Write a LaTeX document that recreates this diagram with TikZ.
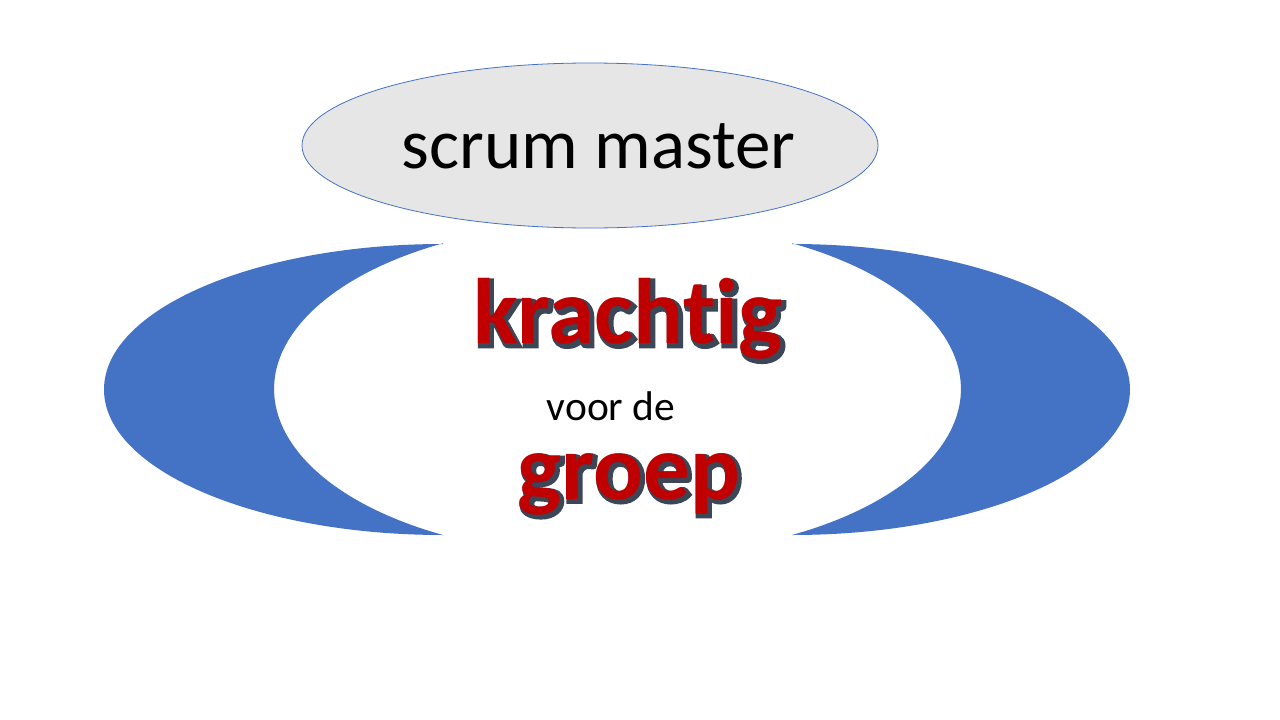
\documentclass[tikz,border=0pt]{standalone}
\usepackage{fontspec}
\setmainfont{Carlito}[Ligatures=NoCommon]
\newfontfamily\outlinefont{Carlito Bold}[Ligatures=NoCommon, RawFeature={embolden=5}]
\newfontfamily\redfont{Carlito Bold}[Ligatures=NoCommon]
\definecolor{moonblue}{HTML}{4472C4}
\definecolor{lightgray}{HTML}{E7E6E6}
\definecolor{textred}{HTML}{C00000}
\definecolor{darkslate}{HTML}{3B4656}
\tikzset{
  moon/.style={fill=moonblue, draw=none},
  bigred/.style={anchor=base, inner sep=0pt, text=textred, font=\fontsize{93}{93}\redfont},
  bigshadow/.style={anchor=base, inner sep=0pt, text=darkslate, font=\fontsize{93}{93}\outlinefont},
  plain/.style={anchor=base, inner sep=0pt}
}
\begin{document}
\begin{tikzpicture}[x=1pt,y=-1pt]
\useasboundingbox[fill=white] (0,0) rectangle (1280,720);
% top ellipse
\draw[fill=lightgray, draw=moonblue, line width=0.8pt] (590,145.5) ellipse[x radius=288, y radius=82.5];
\node[plain, font=\fontsize{71}{71}\selectfont] (sm) at (598.5,168) {scrum master};
% left moon
\fill[moon] (443,244) arc[start angle=270, end angle=90, x radius=339, y radius=145.5]
  arc[start angle=118.5, end angle=241.5, x radius=323, y radius=166] -- cycle;
% right moon
\fill[moon] (792,244) arc[start angle=-90, end angle=90, x radius=338, y radius=145.5]
  arc[start angle=61.5, end angle=-61.5, x radius=323, y radius=166] -- cycle;
% krachtig
\node[bigshadow] (kshadow) at (630,346) {krach\kern0pt tig};
\node[bigred] (kmain) at (628,343.5) {krach\kern0pt tig};
% voor de
\node[plain, font=\fontsize{41.5}{41.5}\selectfont] (vd) at (611,420) {voor de};
% groep
\node[bigshadow] (gshadow) at (631,501.5) {groep};
\node[bigred] (gmain) at (629,499) {groep};
\end{tikzpicture}
\end{document}
